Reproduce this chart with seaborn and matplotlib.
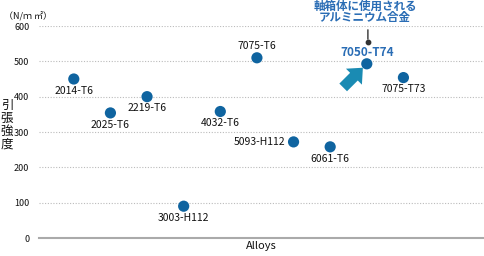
import matplotlib
matplotlib.use("Agg")
import matplotlib.pyplot as plt
import seaborn as sns
import pandas as pd

alloys = ["2014-T6", "2025-T6", "2219-T6", "3003-H112", "4032-T6",
          "7075-T6", "5093-H112", "6061-T6", "7050-T74", "7075-T73"]
strength = [450, 354, 400, 90, 358, 510, 272, 258, 493, 454]
# label placement: 'below', 'above', 'left'
placement = ["below", "below", "below", "below", "below",
             "above", "left", "below", "above", "below"]
yticks = [0, 100, 200, 300, 400, 500, 600]
highlight = "7050-T74"
note = "軸箱体に使用される\nアルミニウム合金"

sns.set_theme(style="white")
plt.rcParams['font.family'] = ['Noto Sans CJK JP', 'DejaVu Sans']

df = pd.DataFrame({"alloy": alloys, "strength": strength})

fig = plt.figure(figsize=(4.84, 2.56), dpi=100)
ax = fig.add_axes([39/484, 1-238/256, 1-39/484, (238-26)/256])

sns.scatterplot(data=df, x="alloy", y="strength", ax=ax, color="#0f64a0",
                s=65, edgecolor="none", zorder=3, clip_on=False)

ax.set_xlim(-0.95, 11.2)
ax.set_ylim(0, 600)
ax.set_yticks(yticks)
ax.set_yticklabels([str(v) for v in yticks], fontsize=6.5, color="#111111")
ax.set_xticks([])
ax.tick_params(axis="y", length=0, pad=7)
ax.set_xlabel("Alloys", fontsize=8, color="#111111", labelpad=2)
ax.set_ylabel("")
for s in ["top", "right", "left"]:
    ax.spines[s].set_visible(False)
ax.spines["bottom"].set_color("#aaaaaa")
ax.spines["bottom"].set_linewidth(1.5)
for v in yticks[1:]:
    ax.axhline(v, color="#bbbbbb", lw=0.8, ls=(0, (1, 1.5)), zorder=1)

for i, (a, v, p) in enumerate(zip(alloys, strength, placement)):
    if a == highlight:
        ax.annotate(a, (i, v), xytext=(0, 8.5), textcoords="offset points",
                    ha="center", va="center", fontsize=8.5, fontweight="bold",
                    color="#2a6db5")
        continue
    if p == "below":
        off, ha = (0, -8.5), "center"
    elif p == "above":
        off, ha = (0, 8.5), "center"
    else:
        off, ha = (-6, 0), "right"
    ax.annotate(a, (i, v), xytext=off, textcoords="offset points",
                ha=ha, va="center", fontsize=7.5, color="#111111")

hi = alloys.index(highlight)
hv = strength[hi]
# pointer line and dot to note
ax.annotate("", xy=(hi + 0.03, 555), xytext=(hi + 0.03, 597),
            arrowprops=dict(arrowstyle="-", color="#333333", lw=1),
            annotation_clip=False)
ax.scatter([hi + 0.03], [555], s=10, color="#333333", zorder=4, clip_on=False)
ax.text(hi - 0.05, 606, note, ha="center", va="bottom", fontsize=8.3,
        fontweight="bold", color="#2a6db5", linespacing=0.85, clip_on=False)

# big teal arrow pointing at the highlighted alloy
ax.annotate("", xy=(hi, hv), xytext=(-17, -17), textcoords="offset points",
            arrowprops=dict(arrowstyle="simple,head_length=0.7,head_width=1.25,tail_width=0.6",
                            mutation_scale=13, color="#1a8bb3", lw=0,
                            shrinkA=0, shrinkB=4), zorder=3)

fig.text(4/484, 1-17/256, "（N/ｍ ㎡）", fontsize=6.5, color="#111111",
         ha="left", va="center")
fig.text(7/484, 1-125/256, "引\n張\n強\n度", fontsize=9, color="#111111",
         ha="center", va="center", linespacing=1.0)

fig.savefig("out.png", dpi=100)
